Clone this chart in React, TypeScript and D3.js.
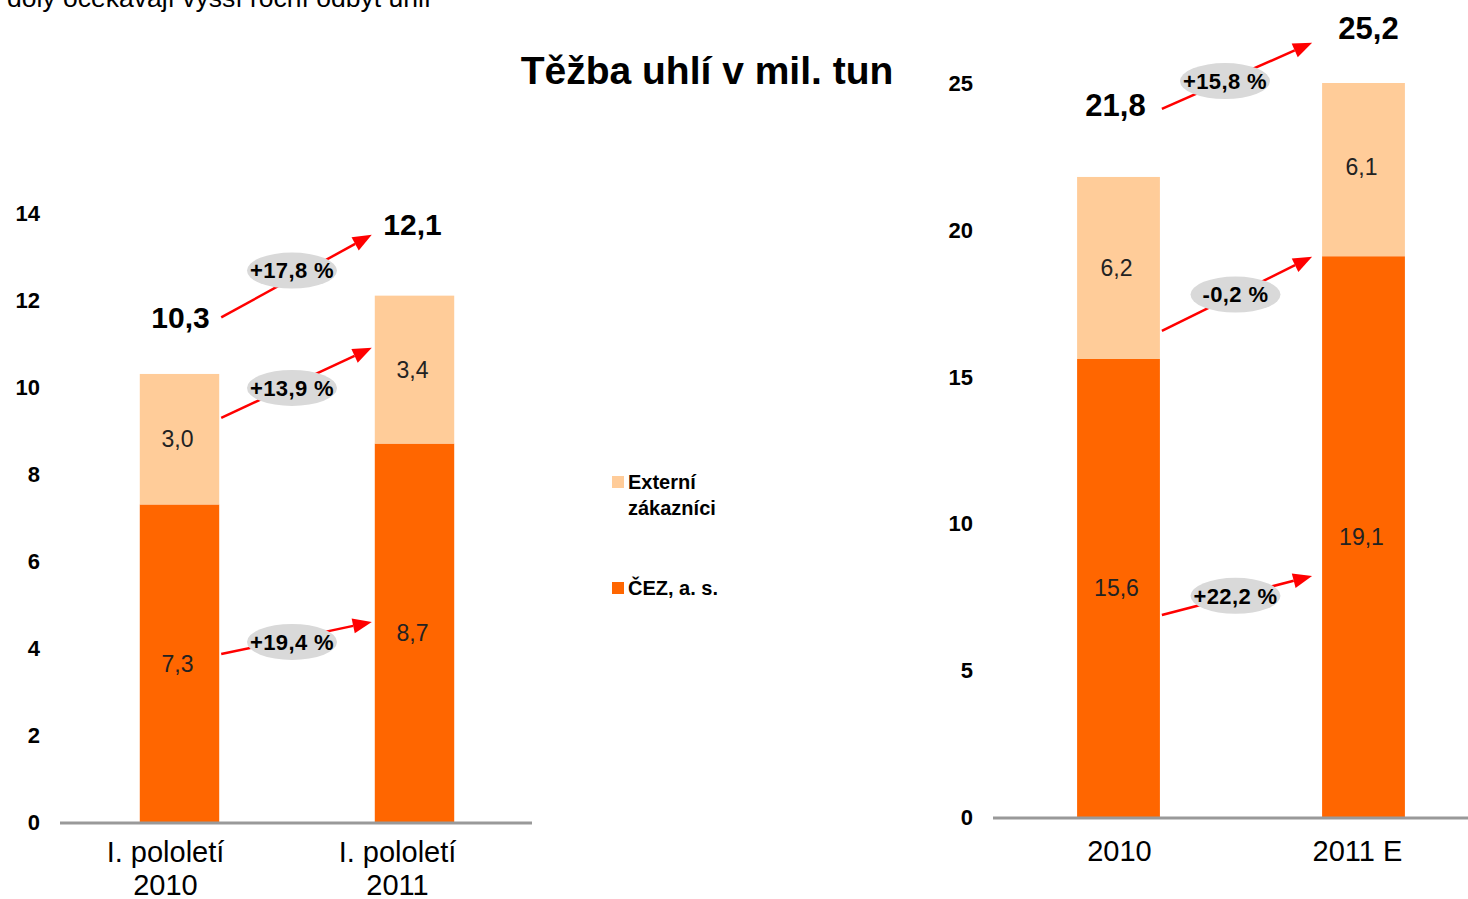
import React from "react";
import * as d3 from "d3";

const W = 1468;
const H = 899;

// ---------- data ----------
const leftCategories = ["I. pololetí\n2010", "I. pololetí\n2011"];
const leftCez = [7.3, 8.7];
const leftExternal = [3.0, 3.4];
const leftTotals = ["10,3", "12,1"];
const leftTicks = [0, 2, 4, 6, 8, 10, 12, 14];

const rightCategories = ["2010", "2011 E"];
const rightCez = [15.6, 19.1];
const rightExternal = [6.2, 6.1];
const rightTotals = ["21,8", "25,2"];
const rightTicks = [0, 5, 10, 15, 20, 25];

// arrows: [from value at bar 1, to value at bar 2, label]
const leftArrows: [number, number, string][] = [
  [3.86, 4.6, "+19,4 %"],
  [9.29, 10.9, "+13,9 %"],
  [11.6, 13.5, "+17,8 %"],
];
const rightArrows: [number, number, string][] = [
  [6.88, 8.21, "+22,2 %"],
  [16.56, 19.08, "-0,2 %"],
  [24.12, 26.37, "+15,8 %"],
];
// total label baseline values (data units)
const leftTotalPos = [11.36, 13.49];
const rightTotalPos = [23.88, 26.5];

const legendItems = [
  { lines: ["Externí", "zákazníci"], color: "#FFCC99" },
  { lines: ["ČEZ, a. s."], color: "#FF6600" },
];

const DARK = "#FF6600";
const LIGHT = "#FFCC99";
const FONT = "Arial, 'Liberation Sans', sans-serif";

type ChartProps = {
  cats: string[];
  cez: number[];
  ext: number[];
  totals: string[];
  totalPos: number[];
  totalDx: number[];
  ticks: number[];
  arrows: [number, number, string][];
  yRange: [number, number];
  xRange: [number, number];
  axisX: [number, number];
  tickX: number;
  catDx: number[];
  catDy: number;
  ellipseT: number[];
  ellipseDy: number[];
  tipGap: number;
  startGap: number;
  totalFont: number;
};

function StackChart(p: ChartProps) {
  const max = p.ticks[p.ticks.length - 1];
  const y = d3.scaleLinear().domain([0, max]).range(p.yRange);
  const x = d3
    .scaleBand<number>()
    .domain(p.cats.map((_, i) => i))
    .range(p.xRange)
    .paddingInner(0.662)
    .paddingOuter(0.331);
  const bw = x.bandwidth();
  const clip = (v: number) => Math.max(y(v), y(max));
  const fmt = (v: number) => d3.format(".1f")(v).replace(".", ",");

  return (
    <g>
      {/* y tick labels */}
      {p.ticks.map((t) => (
        <text
          key={t}
          x={p.tickX}
          y={y(t)}
          dy="0.36em"
          textAnchor="end"
          fontFamily={FONT}
          fontWeight="bold"
          fontSize={22}
          fill="#000"
        >
          {t}
        </text>
      ))}
      {/* bars */}
      {p.cats.map((_, i) => {
        const x0 = x(i)!;
        const a = p.cez[i];
        const b = a + p.ext[i];
        return (
          <g key={i}>
            <rect x={x0} y={y(a)} width={bw} height={y(0) - y(a)} fill={DARK} />
            <rect x={x0} y={clip(b)} width={bw} height={y(a) - clip(b)} fill={LIGHT} />
            <text
              x={x0 + bw / 2 - 2}
              y={y(a / 2)}
              dy="0.36em"
              textAnchor="middle"
              fontFamily={FONT}
              fontSize={23}
              fill="#222"
            >
              {fmt(a)}
            </text>
            <text
              x={x0 + bw / 2 - 2}
              y={y(a + p.ext[i] / 2)}
              dy="0.36em"
              textAnchor="middle"
              fontFamily={FONT}
              fontSize={23}
              fill="#222"
            >
              {fmt(p.ext[i])}
            </text>
            <text
              x={x0 + bw / 2 + p.totalDx[i]}
              y={y(p.totalPos[i])}
              textAnchor="middle"
              fontFamily={FONT}
              fontWeight="bold"
              fontSize={p.totalFont}
              fill="#000"
            >
              {p.totals[i]}
            </text>
            <text textAnchor="middle" fontFamily={FONT} fontSize={29} fill="#000">
              {p.cats[i].split("\n").map((l, k) => (
                <tspan key={k} x={x0 + bw / 2 + p.catDx[i]} y={y(0) + p.catDy + k * 33}>
                  {l}
                </tspan>
              ))}
            </text>
          </g>
        );
      })}
      {/* axis line */}
      <line
        x1={p.axisX[0]}
        x2={p.axisX[1]}
        y1={y(0) + 1}
        y2={y(0) + 1}
        stroke="#999"
        strokeWidth={3}
      />
      {/* arrows */}
      {p.arrows.map(([f, t, lab], k) => {
        const x1 = x(0)! + bw + p.startGap;
        const x2 = x(1)! - p.tipGap;
        const y1 = y(f);
        const y2 = y(t);
        const ang = Math.atan2(y2 - y1, x2 - x1);
        const L = 19;
        const hw = 7.5;
        const bx = x2 - L * Math.cos(ang);
        const by = y2 - L * Math.sin(ang);
        const px = -Math.sin(ang) * hw;
        const py = Math.cos(ang) * hw;
        const tt = p.ellipseT[k];
        const cx = x1 + (x2 - x1) * tt;
        const cy = y1 + (y2 - y1) * tt + p.ellipseDy[k];
        return (
          <g key={k}>
            <line x1={x1} y1={y1} x2={bx} y2={by} stroke="#FF0000" strokeWidth={2.5} />
            <path
              d={`M${x2},${y2} L${bx + px},${by + py} L${bx - px},${by - py} Z`}
              fill="#FF0000"
            />
            <ellipse cx={cx} cy={cy} rx={45} ry={18} fill="#D9D9D9" />
            <text
              x={cx}
              y={cy}
              dy="0.36em"
              textAnchor="middle"
              fontFamily={FONT}
              fontWeight="bold"
              fontSize={22}
              letterSpacing={0.4}
              fill="#000"
            >
              {lab}
            </text>
          </g>
        );
      })}
    </g>
  );
}

export default function App() {
  return (
    <div style={{ position: "absolute", left: 0, top: 0 }}>
      <svg width={W} height={H} style={{ display: "block", background: "#fff" }}>
        <text x={7} y={7} fontFamily={FONT} fontSize={26.5} fill="#000">
          doly očekávají vyšší roční odbyt uhlí
        </text>
        <text
          x={707}
          y={84}
          textAnchor="middle"
          fontFamily={FONT}
          fontWeight="bold"
          fontSize={39}
          fill="#000"
        >
          Těžba uhlí v mil. tun
        </text>

        <StackChart
          cats={leftCategories}
          cez={leftCez}
          ext={leftExternal}
          totals={leftTotals}
          totalPos={leftTotalPos}
          totalDx={[1, -2]}
          ticks={leftTicks}
          arrows={leftArrows}
          yRange={[822, 213]}
          xRange={[62, 532]}
          axisX={[60, 532]}
          tickX={40}
          catDx={[-14, -17]}
          catDy={40}
          ellipseT={[0.47, 0.47, 0.47]}
          ellipseDy={[3, 3, -8]}
          tipGap={3}
          startGap={2}
          totalFont={30}
        />
        <StackChart
          cats={rightCategories}
          cez={rightCez}
          ext={rightExternal}
          totals={rightTotals}
          totalPos={rightTotalPos}
          totalDx={[-3, 5]}
          ticks={rightTicks}
          arrows={rightArrows}
          yRange={[817, 83]}
          xRange={[996, 1486]}
          axisX={[993, 1468]}
          tickX={973}
          catDx={[1, -6]}
          catDy={44}
          ellipseT={[0.49, 0.49, 0.42]}
          ellipseDy={[0, 0, 0]}
          tipGap={10}
          startGap={2}
          totalFont={31}
        />

        {/* legend */}
        {legendItems.map((it, i) => {
          const top = i === 0 ? 476 : 582;
          return (
            <g key={i}>
              <rect x={612} y={top} width={12} height={12} fill={it.color} />
              <text fontFamily={FONT} fontWeight="bold" fontSize={20} fill="#000">
                {it.lines.map((l, k) => (
                  <tspan key={k} x={628} y={top + 13 + k * 26}>
                    {l}
                  </tspan>
                ))}
              </text>
            </g>
          );
        })}
      </svg>
    </div>
  );
}
